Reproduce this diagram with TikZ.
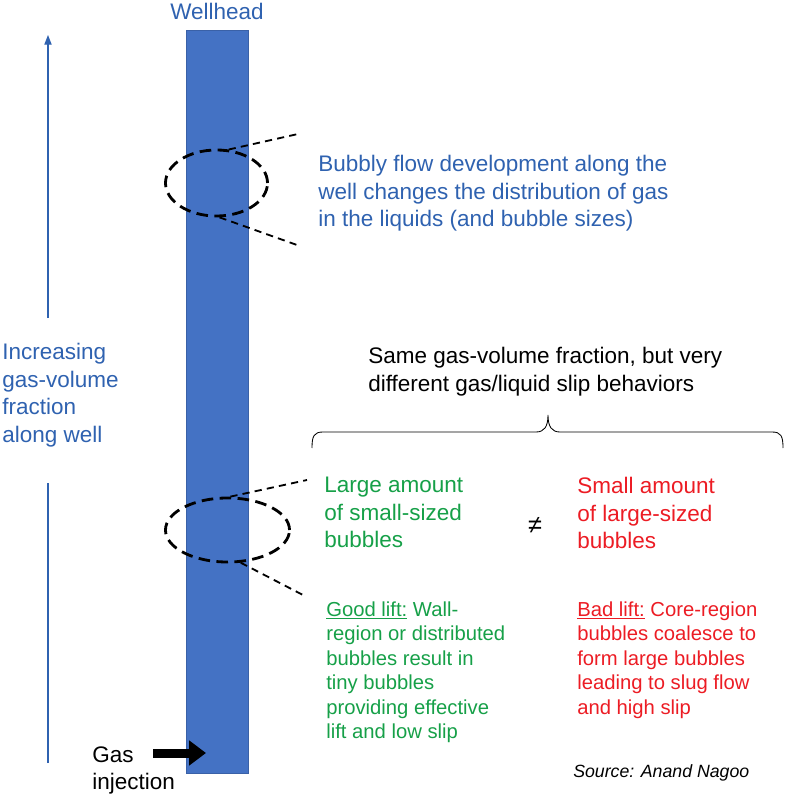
\documentclass[tikz,border=0pt]{standalone}
\usepackage{fontspec}
\setmainfont{Liberation Sans}
\usepackage{xcolor}
\usetikzlibrary{arrows.meta,positioning,shapes.geometric,calc}
\definecolor{wellblue}{RGB}{68,114,196}
\definecolor{textblue}{RGB}{47,98,176}
\definecolor{goodgreen}{RGB}{22,160,72}
\definecolor{badred}{RGB}{236,28,36}

\begin{document}
\begin{tikzpicture}[
  x=0.025cm, y=-0.025cm,
  pipe/.style={
    draw=wellblue!85!black, fill=wellblue, line width=0.4pt,
    minimum width=1.55cm, minimum height=18.575cm, inner sep=0
  },
  lens/.style={draw, ellipse, dash pattern=on 2.9mm off 1.6mm, line width=2pt, inner sep=0},
  ray/.style={dash pattern=on 1.8mm off 1.3mm, line width=1.3pt},
  bigtxt/.style={inner sep=0, align=left, font=\fontsize{16}{19.6}\selectfont},
  smalltxt/.style={inner sep=0, align=left, font=\fontsize{14.4}{17.4}\selectfont},
  rise/.style={draw=textblue, line width=0.8pt}
]
\useasboundingbox (0,0) rectangle (800,794);

% the well
\node[pipe] (well) at (217,401.5) {};
\node[bigtxt, text=textblue, anchor=base] (wellhead) at (217,20) {Wellhead};

% rising gas fraction
\node[bigtxt, text=textblue, anchor=north west] (rising) at (2,343)
  {Increasing\\gas-volume\\fraction\\along well};
\coordinate (riseLow) at (48,763);
\coordinate (riseGapLow) at (48,483);
\coordinate (riseGapHigh) at (48,318);
\coordinate (riseTop) at (48,35);
\draw[rise] (riseLow) -- (riseGapLow);
\draw[rise, -{Triangle[length=2.4mm, width=1.8mm]}] (riseGapHigh) -- (riseTop);

% upper zoom
\node[lens, minimum width=2.55cm, minimum height=1.65cm] (lenstop) at (216.5,183) {};
\coordinate (topA) at (298,134);
\coordinate (topB) at (297,245);
\draw[ray] (lenstop.70) -- (topA);
\draw[ray] (lenstop.-85) -- (topB);
\node[bigtxt, text=textblue, anchor=north west] (bubbly) at (318,155)
  {Bubbly flow development along the\\well changes the distribution of gas\\in the liquids (and bubble sizes)};

% same fraction, brace
\node[bigtxt, anchor=north west] (same) at (368,347)
  {Same gas-volume fraction, but very\\different gas/liquid slip behaviors};
\coordinate (braceL) at (312,448);
\coordinate (braceTip) at (548,415);
\coordinate (braceR) at (783,448);
\draw[line width=0.6pt]
  (braceL) .. controls +(0,-12) and +(-9,0) .. ($(braceL)+(11,-16)$)
  -- ($(braceTip)+(-12,17)$) .. controls +(8,0) and +(0,12) .. (braceTip)
  .. controls +(0,12) and +(-8,0) .. ($(braceTip)+(12,17)$)
  -- ($(braceR)+(-11,-16)$) .. controls +(9,0) and +(0,-12) .. (braceR);

% lower zoom
\node[lens, minimum width=3.1cm, minimum height=1.6cm] (lensbot) at (227.5,530) {};
\coordinate (botA) at (307,480);
\coordinate (botB) at (303,595);
\draw[ray] (lensbot.85) -- (botA);
\draw[ray] (lensbot.-68) -- (botB);
\node[bigtxt, text=goodgreen, anchor=north west] (small) at (324,477)
  {Large amount\\of small-sized\\bubbles};
\node[bigtxt, anchor=center, font=\fontsize{18}{20}\selectfont] (neq) at (535,525) {≠};
\node[bigtxt, text=badred, anchor=north west] (large) at (577,477)
  {Small amount\\of large-sized\\bubbles};

% good / bad lift
\node[smalltxt, text=goodgreen, anchor=north west] (good) at (326,601.5)
  {\underline{Good lift:} Wall-\\region or distributed\\bubbles result in\\tiny bubbles\\providing effective\\lift and low slip};
\node[smalltxt, text=badred, anchor=north west] (bad) at (577,601.5)
  {\underline{Bad lift:} Core-region\\bubbles coalesce to\\form large bubbles\\leading to slug flow\\and high slip};
\node[inner sep=0, anchor=base west, font=\fontsize{12.6}{15}\selectfont\itshape] (source) at (573,777)
  {Source: Anand Nagoo};

% gas injection
\node[bigtxt, anchor=north west] (gas) at (92,746) {Gas\\injection};
\coordinate (injFrom) at (153,753);
\coordinate (injTo) at (206,753);
\draw[line width=0.225cm, -{Triangle[length=0.42cm, width=0.6cm]}] (injFrom) -- (injTo);
\end{tikzpicture}
\end{document}
